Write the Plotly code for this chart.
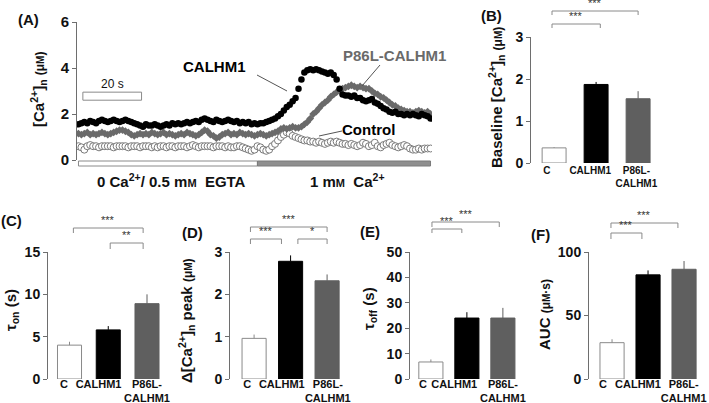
import plotly.graph_objects as go

W, H = 709, 403

# ---- panel A: traces (time in s, [Ca2+]n in uM) ----
time_s = list(range(121))
ca_switch_s = 61

calhm1 = [1.55, 1.6, 1.65, 1.6, 1.7, 1.65, 1.6, 1.7, 1.75, 1.7, 1.65,
          1.7, 1.75, 1.7, 1.65, 1.7, 1.75, 1.7, 1.65, 1.6, 1.55,
          1.5, 1.45, 1.55, 1.5, 1.5, 1.55, 1.5, 1.45, 1.5, 1.55,
          1.5, 1.6, 1.55, 1.6, 1.55, 1.6, 1.65, 1.6, 1.65, 1.7,
          1.65, 1.75, 1.8, 1.75, 1.7, 1.65, 1.75, 1.7, 1.65, 1.7,
          1.75, 1.7, 1.65, 1.7, 1.6, 1.65, 1.6, 1.65, 1.55, 1.6,
          1.55, 1.6, 1.6, 1.65, 1.7, 1.75, 1.8, 1.9, 2.0, 2.15,
          2.3, 2.4, 2.55, 2.7, 3.1, 3.5, 3.8, 3.9, 3.95, 3.9,
          3.95, 3.9, 3.85, 3.8, 3.75, 3.8, 3.7, 3.5, 3.1, 2.85,
          2.8, 2.8, 2.75, 2.8, 2.7, 2.7, 2.6, 2.55, 2.6, 2.65,
          2.5, 2.45, 2.35, 2.25, 2.2, 2.1, 2.05, 2.1, 2.0, 2.0,
          1.95, 2.0, 1.95, 2.0, 1.95, 1.9, 2.0, 1.95, 1.9, 1.8]

p86l = [1.15, 1.1, 1.15, 1.2, 1.1, 1.15, 1.1, 1.15, 1.2, 1.15, 1.1,
        1.15, 1.2, 1.25, 1.3, 1.3, 1.25, 1.2, 1.1, 1.05, 1.1,
        1.15, 1.1, 1.15, 1.1, 1.2, 1.15, 1.1, 1.15, 1.2, 1.1,
        1.15, 1.1, 1.05, 1.1, 1.15, 1.1, 1.2, 1.15, 1.1, 1.05,
        1.1, 1.2, 1.3, 1.25, 1.1, 1.05, 0.95, 1.0, 1.1, 1.15,
        1.2, 1.1, 1.15, 1.1, 1.2, 1.15, 1.1, 1.15, 1.1, 1.05,
        1.1, 1.15, 1.1, 1.05, 1.1, 1.15, 1.2, 1.25, 1.35, 1.4,
        1.35, 1.4, 1.45, 1.4, 1.4, 1.45, 1.55, 1.65, 1.8, 2.0,
        2.1, 2.25, 2.4, 2.5, 2.6, 2.75, 2.85, 2.95, 3.05, 3.1,
        3.15, 3.2, 3.25, 3.2, 3.15, 3.2, 3.15, 3.1, 3.1, 3.0,
        2.9, 2.85, 2.75, 2.7, 2.6, 2.5, 2.4, 2.35, 2.25, 2.2,
        2.15, 2.1, 2.1, 2.05, 2.1, 2.15, 2.1, 2.05, 2.1, 2.0]

control = [0.6, 0.55, 0.45, 0.6, 0.65, 0.6, 0.6, 0.55, 0.6, 0.6, 0.6,
           0.6, 0.55, 0.6, 0.6, 0.6, 0.6, 0.55, 0.6, 0.6, 0.6,
           0.55, 0.6, 0.6, 0.6, 0.55, 0.6, 0.55, 0.6, 0.6, 0.55,
           0.6, 0.6, 0.55, 0.6, 0.6, 0.6, 0.55, 0.6, 0.65, 0.6,
           0.55, 0.6, 0.6, 0.6, 0.6, 0.55, 0.6, 0.6, 0.6, 0.55,
           0.6, 0.55, 0.55, 0.6, 0.6, 0.55, 0.5, 0.45, 0.4, 0.45,
           0.6, 0.55, 0.45, 0.4, 0.45, 0.6, 0.7, 0.85, 1.0, 1.1,
           1.2, 1.15, 1.05, 1.0, 0.95, 0.9, 0.85, 0.85, 0.8, 0.8,
           0.75, 0.8, 0.75, 0.7, 0.75, 0.8, 0.75, 0.8, 0.75, 0.7,
           0.7, 0.65, 0.7, 0.65, 0.6, 0.65, 0.75, 0.7, 0.6, 0.65,
           0.75, 0.6, 0.55, 0.65, 0.7, 0.75, 0.65, 0.6, 0.55, 0.6,
           0.65, 0.6, 0.5, 0.45, 0.45, 0.5, 0.45, 0.5, 0.5, 0.5]

# ---- panels B-F: mean and SEM ----
groups = ["C", "CALHM1", "P86L-<br>CALHM1"]
baseline_mean = [0.36, 1.87, 1.53]
baseline_err = [0.02, 0.06, 0.18]
tau_on_mean = [4.0, 5.8, 8.9]
tau_on_err = [0.4, 0.45, 1.1]
peak_mean = [0.96, 2.78, 2.32]
peak_err = [0.09, 0.14, 0.15]
tau_off_mean = [6.7, 24.0, 24.0]
tau_off_err = [1.0, 2.3, 4.0]
auc_mean = [28.6, 82.0, 86.4]
auc_err = [2.7, 3.5, 6.5]

bar_fill = ["white", "black", "#5f5f5f"]
bar_edge = ["#8a8a8a", "black", "#5f5f5f"]

FONT = "Liberation Sans, Arial, sans-serif"
AXC = "#6e6e6e"


def px(x, y):
    return x / W, 1 - y / H


fig = go.Figure()
annos = []
shapes = []


def label(txt, cx, cy, **kw):
    x, y = px(cx, cy)
    d = dict(x=x, y=y, xref="paper", yref="paper", text=txt, showarrow=False,
             xanchor="center", yanchor="middle")
    d.update(kw)
    annos.append(d)


# ---- panel A ----
fig.add_trace(go.Scatter(x=time_s, y=control, mode="markers", xaxis="x", yaxis="y",
                         marker=dict(symbol="circle", size=7, color="white",
                                     line=dict(color="#7a7a7a", width=1))))
fig.add_trace(go.Scatter(x=time_s, y=p86l, mode="markers", xaxis="x", yaxis="y",
                         marker=dict(symbol="diamond", size=6, color="#6a6a6a",
                                     line=dict(width=0))))
fig.add_trace(go.Scatter(x=time_s, y=calhm1, mode="markers", xaxis="x", yaxis="y",
                         marker=dict(symbol="circle", size=6.5, color="black",
                                     line=dict(width=0))))

ax_common = dict(showgrid=False, zeroline=False, automargin=False)
layout_axes = {}
layout_axes["xaxis"] = dict(domain=[77 / W, 432 / W], range=[-0.5, 120.5],
                            showline=False, showticklabels=False, ticks="",
                            anchor="y", **ax_common)
layout_axes["yaxis"] = dict(domain=[1 - 160 / H, 1 - 22 / H], range=[0, 6], dtick=2,
                            showline=True, linecolor=AXC, linewidth=1, ticks="outside",
                            ticklen=4, tickcolor=AXC, tickfont=dict(size=15),
                            anchor="x", **ax_common)

# solution bars under the trace
yb0, yb1 = 1 - 166 / H, 1 - 161 / H
shapes.append(dict(type="rect", xref="x", yref="paper", x0=0, x1=ca_switch_s, y0=yb0, y1=yb1,
                   fillcolor="white", line=dict(color="#8a8a8a", width=1)))
shapes.append(dict(type="rect", xref="x", yref="paper", x0=ca_switch_s, x1=120, y0=yb0, y1=yb1,
                   fillcolor="#8f8f8f", line=dict(color="#7a7a7a", width=1)))
# 20 s scale bar
shapes.append(dict(type="rect", xref="x", yref="y", x0=1.5, x1=21.5, y0=2.6, y1=2.95,
                   fillcolor="white", line=dict(color="#8a8a8a", width=1)))
annos.append(dict(x=11.5, y=3.3, xref="x", yref="y", text="20 s", showarrow=False,
                  xanchor="center", yanchor="middle",
                  font=dict(size=12, weight="normal")))

small_m = "m<span style='font-size:11px'>M</span>"
label("0 Ca<sup>2+</sup>/ 0.5 " + small_m + "  EGTA", 171, 180, font=dict(size=15))
label("1 " + small_m + "  Ca<sup>2+</sup>", 347, 180, font=dict(size=15))

for txt, col, (cx, cy), (lx0, ly0, lx1, ly1) in [
        ("CALHM1", "black", (215, 66), (257, 75, 287, 91)),
        ("P86L-CALHM1", "#6a6a6a", (394, 56), (380, 65, 362, 86)),
        ("Control", "black", (368, 130), (342, 131, 319, 136))]:
    label(txt, cx, cy, font=dict(size=15, color=col))
    a0, b0 = px(lx0, ly0)
    a1, b1 = px(lx1, ly1)
    shapes.append(dict(type="line", xref="paper", yref="paper", x0=a0, y0=b0, x1=a1, y1=b1,
                       line=dict(color="#555", width=1)))

# ---- bar panels ----
panels = [
    dict(n=2, x0=531, step=42, start=-0.55, ytop=37, ybot=163, ymax=3, dtick=1,
         mean=baseline_mean, err=baseline_err, bw=0.57, lab=[-0.17, 0.86, 1.96], lsize=10,
         lstand=0,
         brackets=[(-0.05, 1.1, 24, 28, "***"), (-0.05, 2.0, 11, 15, "***")]),
    dict(n=3, x0=48, step=38.75, start=-0.555, ytop=252, ybot=379, ymax=15, dtick=5,
         mean=tau_on_mean, err=tau_on_err, bw=0.62, lab=[-0.14, 0.75, 2.0], lsize=11,
         lstand=-3,
         brackets=[(0.1, 1.9, 228, 233, "***"), (1.05, 1.9, 243, 249, "**")]),
    dict(n=4, x0=230, step=36.5, start=-0.66, ytop=252, ybot=379, ymax=3, dtick=1,
         mean=peak_mean, err=peak_err, bw=0.66, lab=[-0.19, 0.76, 2.02], lsize=11,
         lstand=-3,
         brackets=[(-0.1, 2.0, 227, 232, "***"), (-0.1, 0.75, 239, 244, "***"),
                   (1.2, 2.0, 239, 244, "*")]),
    dict(n=5, x0=410, step=36, start=-0.58, ytop=252, ybot=379, ymax=50, dtick=10,
         mean=tau_off_mean, err=tau_off_err, bw=0.67, lab=[-0.22, 0.65, 2.0], lsize=11,
         lstand=-3,
         brackets=[(0.03, 0.86, 229, 233, "***"), (0.03, 1.9, 222, 227, "***")]),
    dict(n=6, x0=589, step=36, start=-0.64, ytop=252, ybot=379, ymax=100, dtick=50,
         mean=auc_mean, err=auc_err, bw=0.67, lab=[-0.25, 0.72, 1.99], lsize=11,
         lstand=-3,
         brackets=[(-0.03, 0.83, 233, 239, "***"), (-0.03, 1.83, 223, 228, "***")]),
]

for p in panels:
    n = p["n"]
    xa, ya = "x%d" % n, "y%d" % n
    for i in range(3):
        fig.add_trace(go.Bar(x=[i], y=[p["mean"][i]], width=p["bw"], xaxis=xa, yaxis=ya,
                             marker=dict(color=bar_fill[i], line=dict(color=bar_edge[i], width=1)),
                             error_y=dict(type="data", array=[p["err"][i]], arrayminus=[0],
                                          symmetric=False, color=bar_edge[i],
                                          thickness=1, width=0)))
    span = 3.1
    layout_axes["xaxis%d" % n] = dict(domain=[p["x0"] / W, (p["x0"] + span * p["step"]) / W],
                                      range=[p["start"], p["start"] + span],
                                      tickvals=p["lab"], ticktext=groups, ticks="",
                                      tickangle=0, showline=False,
                                      tickfont=dict(size=p["lsize"]),
                                      ticklabelstandoff=p["lstand"],
                                      anchor=ya, **ax_common)
    layout_axes["yaxis%d" % n] = dict(domain=[1 - p["ybot"] / H, 1 - p["ytop"] / H],
                                      range=[0, p["ymax"]], dtick=p["dtick"],
                                      showline=True, linecolor=AXC, linewidth=1,
                                      ticks="outside", ticklen=4, tickcolor=AXC,
                                      tickfont=dict(size=14), anchor=xa, **ax_common)
    for (b0, b1, ytop, ybot, stars) in p["brackets"]:
        yt, yb = 1 - ytop / H, 1 - ybot / H
        shapes.append(dict(type="path", xref=xa, yref="paper",
                           path="M %s,%s L %s,%s L %s,%s L %s,%s" % (b0, yb, b0, yt, b1, yt, b1, yb),
                           line=dict(color="#8a8a8a", width=1)))
        annos.append(dict(x=(b0 + b1) / 2, y=yt, xref=xa, yref="paper", text=stars,
                          showarrow=False, xanchor="center", yanchor="bottom",
                          font=dict(size=11, weight="normal", color="#333")))

# ---- axis titles and panel letters ----
mu = "<span style='font-size:12px'>(μ" + "<span style='font-size:10px'>M</span>)</span>"
titles = [
    ("[Ca<sup>2+</sup>]<sub>n</sub> " + mu, 38, 90),
    ("Baseline [Ca<sup>2+</sup>]<sub>n</sub> " + mu, 497, 98),
    ("τ<sub>on</sub> (s)", 11, 310),
    ("Δ[Ca<sup>2+</sup>]<sub>n</sub> peak " + mu, 186, 321),
    ("τ<sub>off</sub> (s)", 369, 309),
    ("AUC <span style='font-size:12px'>(μ<span style='font-size:10px'>M</span>·s)</span>", 544, 315),
]
for txt, cx, cy in titles:
    label(txt, cx, cy, textangle=-90, font=dict(size=15))

for txt, cx, cy in [("(A)", 28, 19), ("(B)", 491, 15), ("(C)", 11, 221),
                    ("(D)", 192, 232), ("(E)", 370, 231), ("(F)", 540, 234)]:
    label(txt, cx, cy, font=dict(size=15))

fig.update_layout(template="none", width=W, height=H, margin=dict(l=0, r=0, t=0, b=0, pad=0),
                  paper_bgcolor="white", plot_bgcolor="white", showlegend=False,
                  barmode="overlay", hovermode=False,
                  font=dict(family=FONT, size=14, color="#111", weight="bold"),
                  annotations=annos, shapes=shapes, **layout_axes)

# page body has a default 8px margin; drop it so the figure sits at the window origin
fig.write_html("out.html", config={"displayModeBar": False},
               post_script="document.body.style.margin='0';")
